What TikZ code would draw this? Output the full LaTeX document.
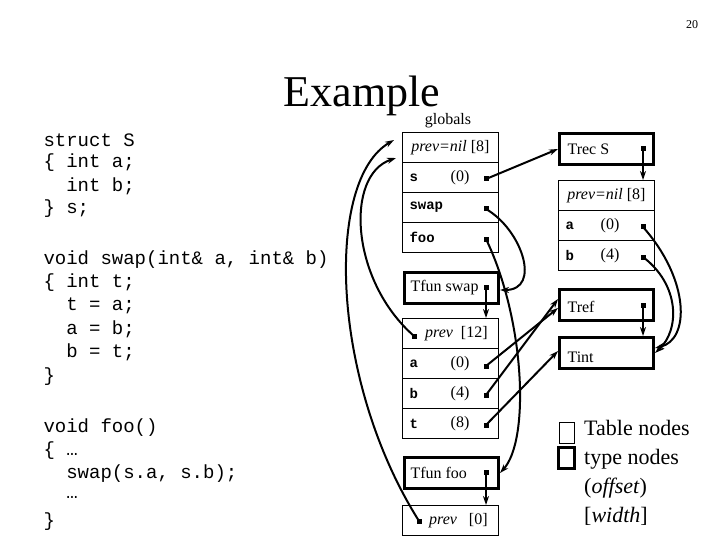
\documentclass[tikz,border=0pt]{standalone}
\usepackage{fontspec}
\setmainfont{Liberation Serif}
\setmonofont{Liberation Mono}
\usetikzlibrary{arrows.meta}
\begin{document}
\begin{tikzpicture}[x=1pt,y=-1pt,
  cell/.style={draw,line width=0.8pt,minimum width=96pt,minimum height=30pt,inner sep=0pt,anchor=north west},
  tnode/.style={draw,line width=3pt,minimum width=94pt,minimum height=31pt,inner sep=0pt,anchor=north west},
  dot/.style={fill,minimum size=5pt,inner sep=0pt},
  arr/.style={line width=2pt,-{Stealth[length=9pt,width=6pt]}},
  code/.style={font=\ttfamily\fontsize{19}{23}\selectfont,anchor=west},
  lab/.style={font=\fontsize{16}{18}\selectfont},
  tt/.style={font=\ttfamily\bfseries\fontsize{14}{16}\selectfont,anchor=west}]
\useasboundingbox (0,0) rectangle (720,540);
\node[font=\fontsize{12}{14}\selectfont] (pg) at (692,25) {20};
\node[font=\fontsize{44}{48}\selectfont] (title) at (362,96) {Example};
% code
\foreach \t/\y [count=\i] in {{struct S}/140,{\{ int a;}/163,{\ \ int b;}/186,{\} s;}/209,
 {void swap(int\& a, int\& b)}/260,{\{ int t;}/283,{\ \ t = a;}/306,{\ \ a = b;}/329,{\ \ b = t;}/352,{\}}/377,
 {void foo()}/428,{\{ …}/451,{\ \ swap(s.a, s.b);}/474,{\ \ …}/497,{\}}/522}
  \node[code] (c\i) at (40,\y) {\t};
% globals
\node[lab] (glab) at (448,121) {globals};
\node[cell] (g1) at (402,132) {}; \node[lab] at (g1) {\textit{prev=nil} [8]};
\node[cell] (g2) at (402,162) {}; \node[tt] at ([xshift=4pt]g2.west) {s}; \node[lab] at ([xshift=58pt]g2.west) {(0)};
\node[cell] (g3) at (402,192) {}; \node[tt] at ([xshift=4pt]g3.west) {swap};
\node[cell] (g4) at (402,222) {}; \node[tt] at ([xshift=4pt]g4.west) {foo};
\node[dot] (gs) at (486,179) {}; \node[dot] (gsw) at (486,209) {}; \node[dot] (gf) at (486,239) {};
% Trec S
\node[tnode] (trec) at (558,132) {}; \node[lab,anchor=west] at ([xshift=6pt]trec.west) {Trec S};
\node[dot] (trd) at (643,149) {};
\node[cell] (s1) at (558,180) {}; \node[lab] at (s1) {\textit{prev=nil} [8]};
\node[cell] (s2) at (558,210) {}; \node[tt] at ([xshift=4pt]s2.west) {a}; \node[lab] at ([xshift=52pt]s2.west) {(0)};
\node[cell] (s3) at (558,240) {}; \node[tt] at ([xshift=4pt]s3.west) {b}; \node[lab] at ([xshift=52pt]s3.west) {(4)};
\node[dot] (sa) at (643,227) {}; \node[dot] (sb) at (643,257) {};
% Tfun swap
\node[tnode] (tfs) at (403,271) {}; \node[lab,anchor=west] at ([xshift=4pt]tfs.west) {Tfun swap};
\node[dot] (tfsd) at (486,287) {};
\node[cell] (w1) at (402,318) {}; \node[lab] at ([xshift=6pt]w1) {\textit{prev}\ \ [12]};
\node[dot] (wp) at (414,336) {};
\node[cell] (w2) at (402,348) {}; \node[tt] at ([xshift=4pt]w2.west) {a}; \node[lab] at ([xshift=58pt]w2.west) {(0)};
\node[cell] (w3) at (402,378) {}; \node[tt] at ([xshift=4pt]w3.west) {b}; \node[lab] at ([xshift=58pt]w3.west) {(4)};
\node[cell] (w4) at (402,408) {}; \node[tt] at ([xshift=4pt]w4.west) {t}; \node[lab] at ([xshift=58pt]w4.west) {(8)};
\node[dot] (wa) at (486,366) {}; \node[dot] (wb) at (486,395) {}; \node[dot] (wt) at (486,425) {};
% Tref, Tint
\node[tnode] (tref) at (558,288) {}; \node[lab,anchor=west] at ([xshift=6pt,yshift=-2pt]tref.west) {Tref};
\node[dot] (trefd) at (643,305) {};
\node[tnode] (tint) at (558,336) {}; \node[lab,anchor=west] at ([xshift=6pt,yshift=-4pt]tint.west) {Tint};
% Tfun foo
\node[tnode] (tff) at (403,456) {}; \node[lab,anchor=west] at ([xshift=4pt]tff.west) {Tfun foo};
\node[dot] (tffd) at (486,472) {};
\node[cell] (f1) at (402,505) {}; \node[lab] at ([xshift=8pt]f1) {\textit{prev}\ \ \ [0]};
\node[dot] (fp) at (419,521) {};
% legend
\node[draw,line width=0.8pt,minimum width=15pt,minimum height=21pt,inner sep=0pt] (lg1) at (567,433) {};
\node[draw,line width=3pt,minimum width=16pt,minimum height=21pt,inner sep=0pt] (lg2) at (566,458) {};
\node[font=\fontsize{22}{29}\selectfont,anchor=north west,align=left,inner sep=0pt] (lt) at (584,420)
  {Table nodes\\type nodes\\(\textit{offset})\\{[}\textit{width}{]}};
% arrows
\draw[arr] (gs.center) -- (trec.west);
\draw[arr] (gsw.center) to[out=-30,in=0,looseness=1.3] ([yshift=-2pt]tfs.east);
\draw[arr] (gf.center) .. controls (525,320) and (530,440) .. (tff.east);
\draw[arr] (trd.center) -- (s1.north -| trd);
\draw[arr] (tfsd.center) -- (w1.north -| tfsd);
\draw[arr] (trefd.center) -- (tint.north -| trefd);
\draw[arr] (tffd.center) -- (f1.north -| tffd);
\draw[arr] (wa.center) -- ([yshift=-3pt]tref.west);
\draw[arr] (wb.center) -- ([yshift=6pt]tref.west);
\draw[arr] (wt.center) -- ([yshift=2pt]tint.west);
\draw[arr] (sa.center) .. controls (690,280) and (690,340) .. ([yshift=5pt]tint.east);
\draw[arr] (sb.center) .. controls (680,285) and (680,330) .. ([yshift=0pt]tint.east);
\draw[arr] (wp.center) .. controls (350,280) and (345,175) .. (396,158);
\draw[arr] (fp.center) .. controls (330,380) and (325,180) .. (394,140);
\end{tikzpicture}
\end{document}
